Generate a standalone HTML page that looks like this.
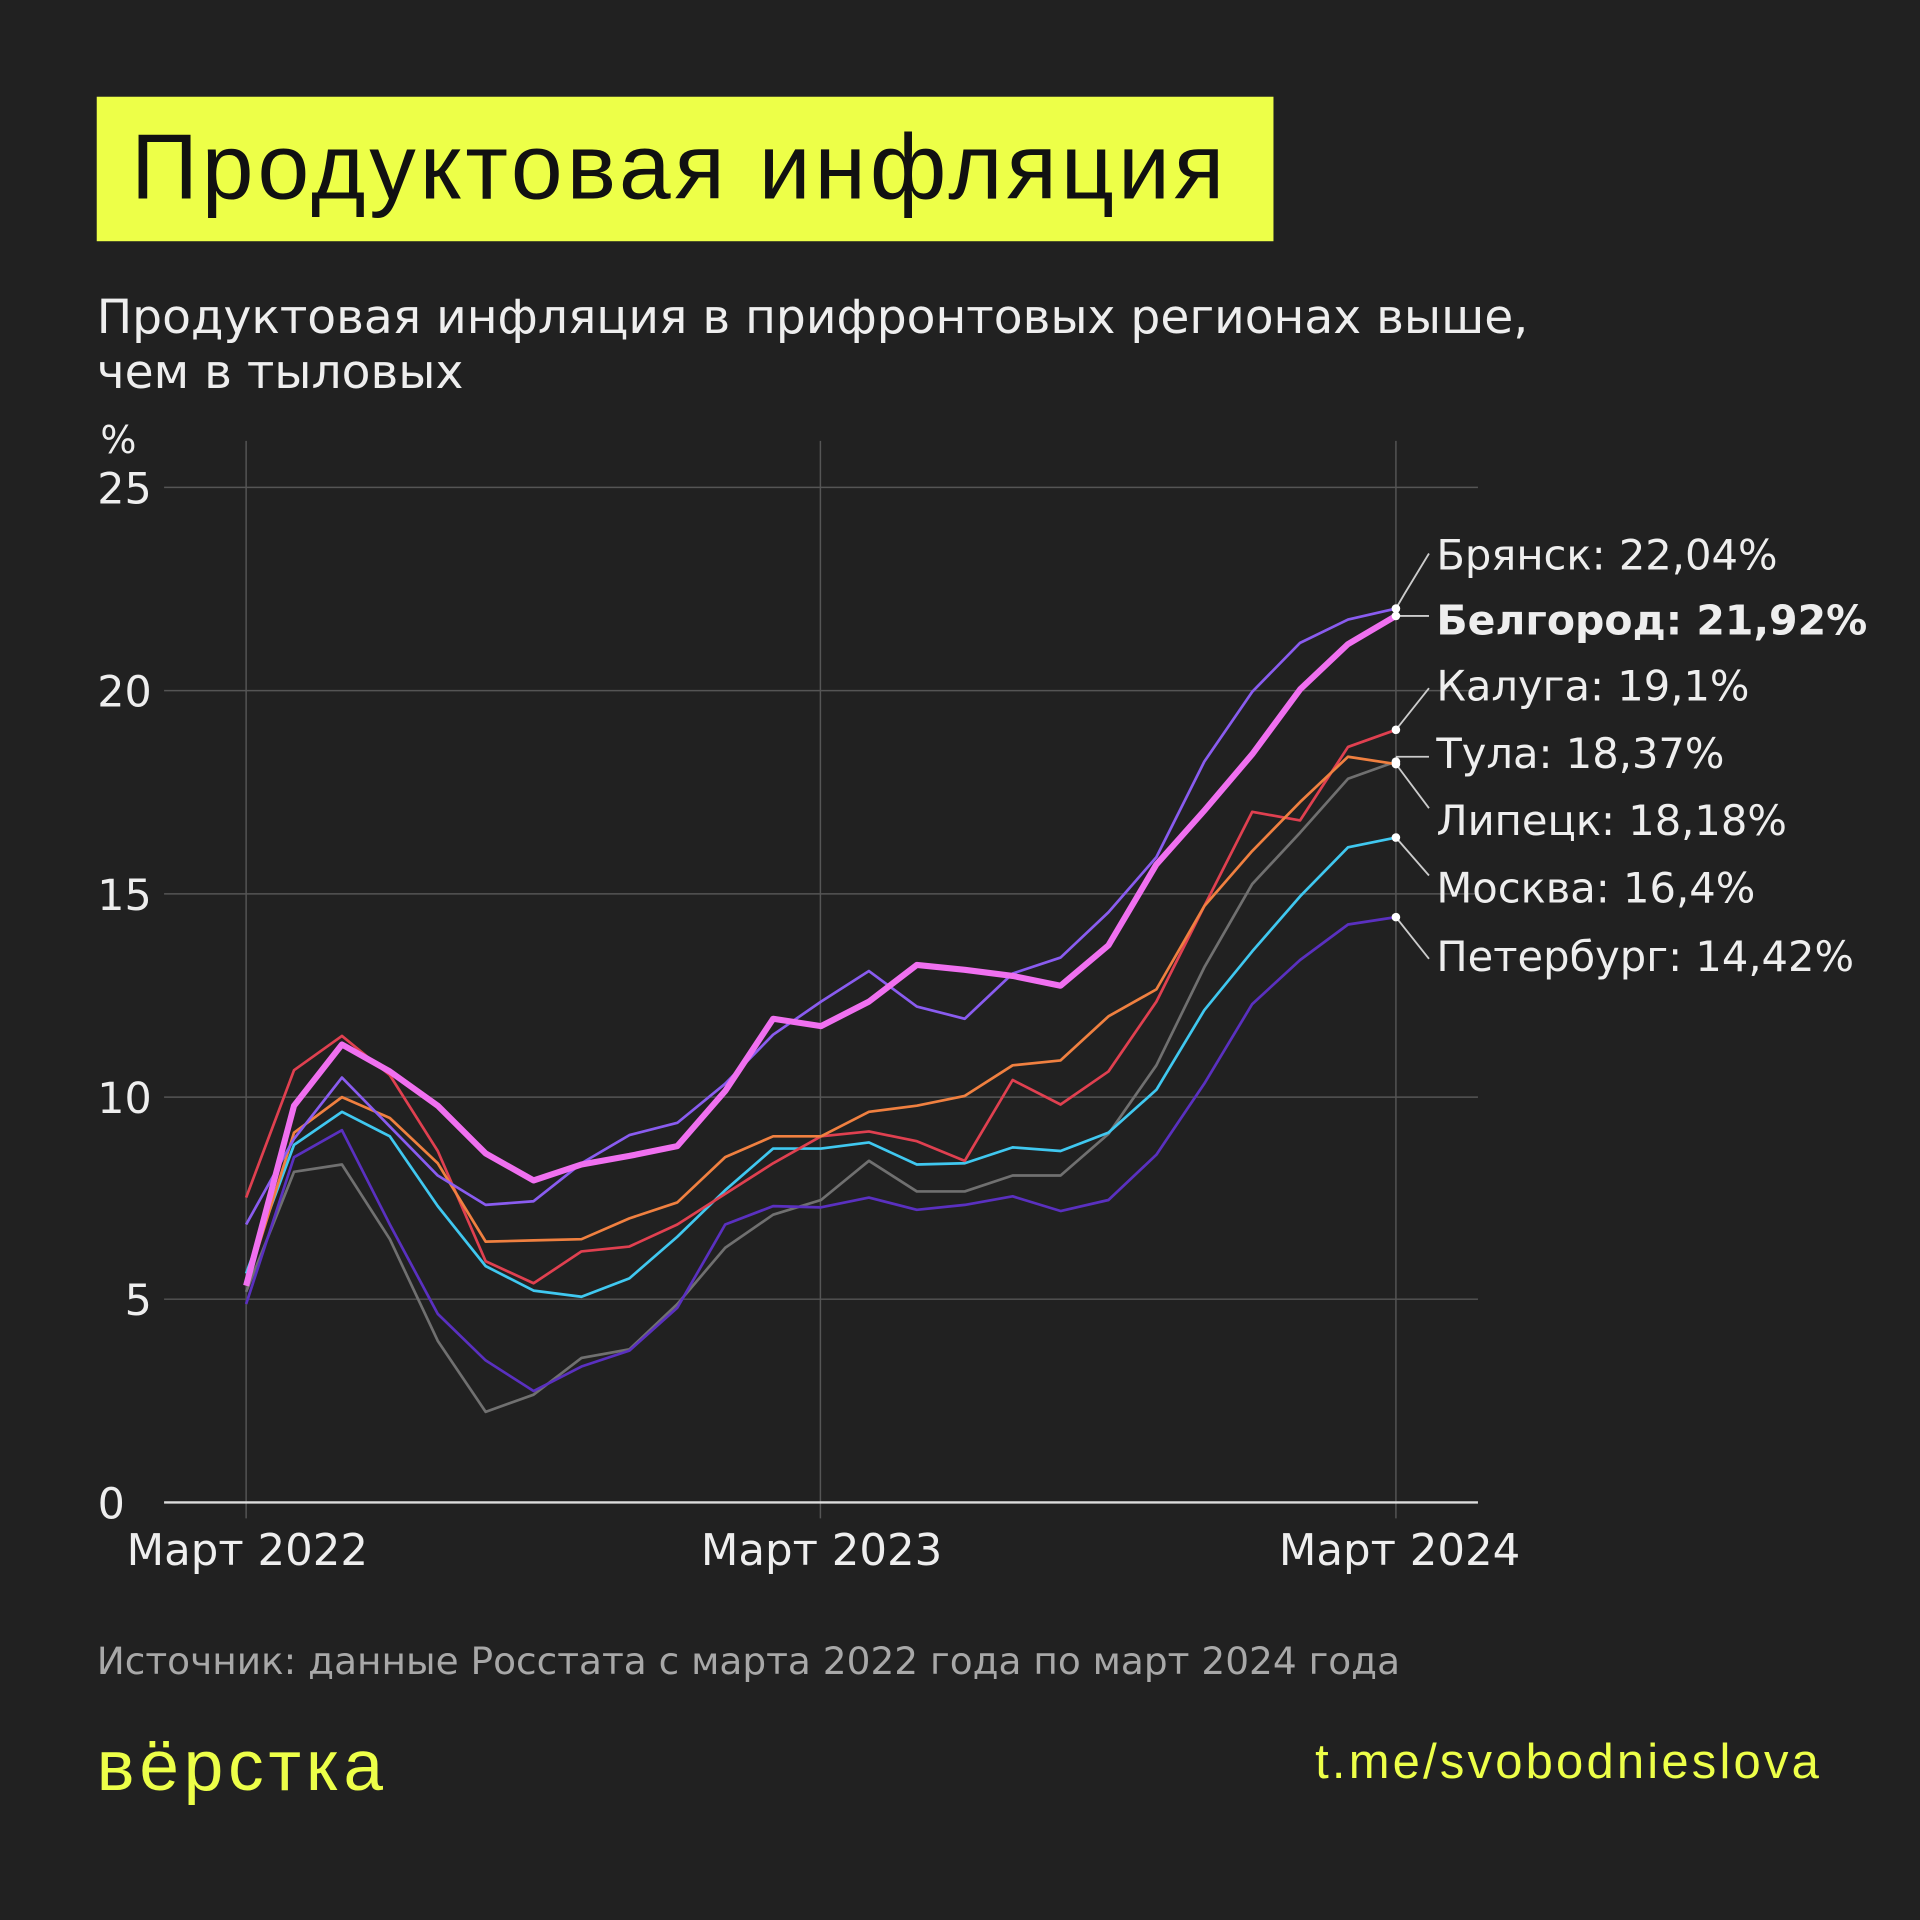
<!DOCTYPE html><html><head><meta charset="utf-8"><style>html,body{margin:0;padding:0;background:#212121}svg{display:block}</style></head><body>
<svg width="1920" height="1920" viewBox="0 0 1568 1568" xmlns="http://www.w3.org/2000/svg" font-family="'DejaVu Sans','Liberation Sans',sans-serif">
<rect width="1568" height="1568" fill="#212121"/>
<rect x="79" y="79" width="961" height="118" fill="#edff48"/>
<text x="107" y="162" font-size="76" fill="#111" font-family="'Liberation Sans',sans-serif" letter-spacing="3.2">Продуктовая инфляция</text>
<text x="79" y="272" font-size="38.5" fill="#eee">Продуктовая инфляция в прифронтовых регионах выше,</text>
<text x="79" y="317" font-size="38.5" fill="#eee">чем в тыловых</text>
<text x="82" y="370" font-size="31" fill="#eee">%</text>
<g stroke="#555" stroke-width="1.2">
<line x1="134" x2="1207" y1="398" y2="398"/><line x1="134" x2="1207" y1="564" y2="564"/><line x1="134" x2="1207" y1="730" y2="730"/><line x1="134" x2="1207" y1="896" y2="896"/><line x1="134" x2="1207" y1="1061" y2="1061"/>
<line x1="201" x2="201" y1="360" y2="1240"/><line x1="670" x2="670" y1="360" y2="1240"/><line x1="1140" x2="1140" y1="360" y2="1240"/>
</g>
<line x1="134" x2="1207" y1="1227" y2="1227" stroke="#ddd" stroke-width="2"/>
<g font-size="35" fill="#eee" text-anchor="end">
<text x="124" y="411">25</text><text x="124" y="577">20</text><text x="124" y="743">15</text><text x="124" y="909">10</text><text x="124" y="1074">5</text><text x="102" y="1240">0</text>
</g>
<g font-size="35.5" fill="#eee" text-anchor="middle">
<text x="202" y="1278">Март 2022</text><text x="671" y="1278">Март 2023</text><text x="1143" y="1278">Март 2024</text>
</g>
<g fill="none" stroke-linejoin="round" stroke-width="2.2" id="lines"></g>
<g font-size="34" fill="#eee">
<text x="1173" y="465">Брянск: 22,04%</text>
<text x="1173" y="518" font-weight="bold" font-size="33.5">Белгород: 21,92%</text>
<text x="1173" y="572">Калуга: 19,1%</text>
<text x="1173" y="627">Тула: 18,37%</text>
<text x="1173" y="682">Липецк: 18,18%</text>
<text x="1173" y="737">Москва: 16,4%</text>
<text x="1173" y="793">Петербург: 14,42%</text>
</g>
<g stroke="#ccc" stroke-width="1.5" fill="none">
<polyline points="1140,497 1147,485 1167,452"/>
<polyline points="1140,503 1167,503"/>
<polyline points="1140,596 1167,562"/>
<polyline points="1140,618 1167,618"/>
<polyline points="1140,624 1167,660"/>
<polyline points="1140,684 1167,715"/>
<polyline points="1140,749 1167,783"/>
</g>
<text x="79" y="1367" font-size="30.6" fill="#a8a8a8">Источник: данные Росстата с марта 2022 года по март 2024 года</text>
<text x="79" y="1462" font-size="58" fill="#edff48" letter-spacing="4" font-family="'Liberation Sans',sans-serif">вёрстка</text>
<text x="1488" y="1452" font-size="40" fill="#edff48" text-anchor="end" letter-spacing="2.6" font-family="'Liberation Sans',sans-serif">t.me/svobodnieslova</text>
<g id="dots" fill="#fff"></g>
<script>
const S={
"#707070":[1055,957,951,1012,1095,1153,1139,1109,1102,1065,1019,992,980,948,973,973,960,960,926,870,790,722,680,636,622],
"#5a30c0":[1065,945,923,1000,1073,1111,1136,1116,1103,1068,1000,985,986,978,988,984,977,989,980,943,885,820,784,755,749],
"#40c8f0":[1040,935,908,928,985,1034,1054,1059,1044,1010,972,938,938,933,951,950,937,940,925,890,825,777,732,692,684],
"#e04050":[978,874,846,878,940,1030,1048,1022,1018,1000,975,950,928,924,932,948,882,902,875,818,740,663,670,610,596],
"#f08040":[1050,925,896,913,950,1014,1013,1012,995,982,945,928,928,908,903,895,870,866,830,808,740,695,655,618,624],
"#8a5cf0":[1000,930,880,920,960,984,981,950,927,917,885,845,818,793,822,832,795,782,745,700,622,565,525,506,497],
"#f070f0":[1050,903,853,875,903,942,964,951,944,936,891,832,838,818,788,792,797,805,772,706,662,616,563,526,503]};
const g=document.getElementById('lines'),d=document.getElementById('dots'),ns='http://www.w3.org/2000/svg';
for(const c in S){const p=document.createElementNS(ns,'polyline');p.setAttribute('points',S[c].map((y,i)=>(201+39.125*i)+','+y).join(' '));p.setAttribute('stroke',c);if(c=='#f070f0')p.setAttribute('stroke-width','5');g.appendChild(p);
const e=document.createElementNS(ns,'circle');e.setAttribute('cx',1140);e.setAttribute('cy',S[c][24]);e.setAttribute('r',3.5);d.appendChild(e);}
</script>
</svg></body></html>
